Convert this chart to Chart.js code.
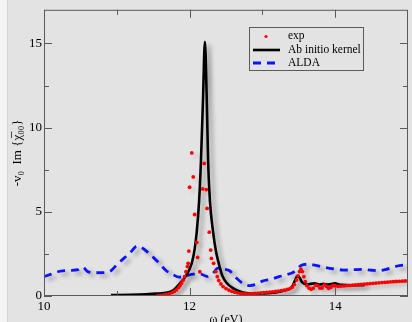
<!DOCTYPE html>
<html>
<head>
<meta charset="utf-8">
<script src="https://cdn.jsdelivr.net/npm/chart.js@4.4.0/dist/chart.umd.min.js"></script>
<style>
  html, body { margin: 0; padding: 0; overflow: hidden; }
  body { width: 412px; height: 322px; background: #e3e3e3; position: relative; }
  #strip { position: absolute; left: 0; top: 0; width: 7px; height: 322px; background: #f4f4f4; border-right: 1px solid #d4d4d4; }
  #myChart { position: absolute; left: 0; top: 0; }
</style>
</head>
<body>
<div id="strip"></div>
<canvas id="myChart" width="412" height="330"></canvas>
<script>
// exp (red dots)
const expX = [11.56, 11.60, 11.64, 11.68, 11.72, 11.76, 11.79, 11.82, 11.85, 11.87, 11.89, 11.91, 11.93, 11.95, 11.97, 11.98, 11.99,
  12.00, 12.03, 12.05, 12.07, 12.10, 12.11, 12.14, 12.18, 12.20, 12.23, 12.24, 12.27, 12.29, 12.30, 12.33,
  12.36, 12.38, 12.40, 12.43, 12.46, 12.50, 12.54, 12.58, 12.62, 12.66, 12.70, 12.74, 12.78, 12.82, 12.86, 12.90, 12.94, 12.98,
  13.02, 13.06, 13.10, 13.14, 13.18, 13.22, 13.26, 13.30, 13.34, 13.38, 13.41, 13.44, 13.47, 13.49, 13.51, 13.53, 13.55, 13.57, 13.59,
  13.61, 13.64, 13.67, 13.70, 13.73, 13.76, 13.79, 13.82, 13.85, 13.88, 13.91, 13.94, 13.97, 14.00, 14.04, 14.08, 14.12, 14.16, 14.20,
  14.24, 14.28, 14.32, 14.36, 14.40, 14.44, 14.48, 14.52, 14.56, 14.60, 14.64, 14.68, 14.72, 14.76, 14.80, 14.84, 14.88, 14.92, 14.96, 15.00];
const expY = [0.02, 0.04, 0.06, 0.09, 0.13, 0.2, 0.27, 0.36, 0.5, 0.62, 0.76, 0.93, 1.15, 1.44, 1.75, 1.94, 2.67,
  6.46, 8.5, 7.07, 4.84, 3.18, 2.29, 1.44, 6.36, 7.87, 6.32, 5.2, 3.79, 2.73, 2.23, 1.94,
  1.45, 1.15, 0.92, 0.72, 0.56, 0.44, 0.35, 0.28, 0.23, 0.19, 0.16, 0.14, 0.13, 0.13, 0.14, 0.15, 0.17, 0.18,
  0.2, 0.22, 0.23, 0.25, 0.27, 0.29, 0.32, 0.35, 0.39, 0.44, 0.52, 0.68, 0.95, 1.2, 1.45, 1.6, 1.45, 1.15, 0.85,
  0.62, 0.47, 0.4, 0.47, 0.65, 0.62, 0.47, 0.48, 0.66, 0.58, 0.46, 0.52, 0.62, 0.6, 0.58, 0.59, 0.6, 0.62, 0.63,
  0.65, 0.66, 0.68, 0.69, 0.71, 0.72, 0.74, 0.75, 0.77, 0.78, 0.8, 0.81, 0.82, 0.84, 0.85, 0.86, 0.87, 0.88, 0.89, 0.9];

// Ab initio kernel (black)
const abX = [10.92, 11.2, 11.4, 11.55, 11.69, 11.78, 11.87, 11.95, 12.03, 12.07, 12.10, 12.13, 12.155, 12.185, 12.21,
  12.235, 12.255, 12.28, 12.32, 12.36, 12.40, 12.45, 12.51, 12.6, 12.72, 12.85, 13.0, 13.1, 13.2, 13.3, 13.38, 13.42,
  13.45, 13.48, 13.51, 13.54, 13.58, 13.62, 13.66, 13.72, 13.78, 13.84, 13.9, 13.96, 14.0, 14.05, 14.1, 14.2, 14.3, 14.41];
const abY = [0.05, 0.07, 0.1, 0.14, 0.2, 0.35, 0.77, 1.2, 1.95, 2.8, 3.9, 5.6, 7.9, 11.8, 15.1,
  11.8, 7.9, 5.6, 3.9, 2.7, 1.95, 1.2, 0.77, 0.45, 0.22, 0.15, 0.14, 0.17, 0.22, 0.32, 0.45, 0.65,
  0.95, 1.18, 1.1, 0.85, 0.72, 0.68, 0.72, 0.75, 0.68, 0.72, 0.68, 0.72, 0.76, 0.68, 0.66, 0.64, 0.64, 0.65];

// ALDA (blue dashed)
const aldaX = [10.0, 10.1, 10.22, 10.35, 10.47, 10.53, 10.6, 10.72, 10.86, 10.92, 11.0, 11.1, 11.18, 11.28, 11.35, 11.45,
  11.57, 11.68, 11.76, 11.86, 11.95, 12.05, 12.15, 12.25, 12.32, 12.39, 12.47, 12.55, 12.62, 12.68, 12.75, 12.83, 12.92,
  13.0, 13.12, 13.23, 13.32, 13.42, 13.48, 13.53, 13.64, 13.75, 13.87, 14.0, 14.12, 14.25, 14.37, 14.5, 14.6, 14.7, 14.78, 14.88, 15.0];
const aldaY = [1.15, 1.3, 1.47, 1.52, 1.56, 1.72, 1.45, 1.38, 1.4, 1.5, 1.85, 2.25, 2.55, 2.96, 2.85, 2.5,
  2.0, 1.5, 1.3, 1.12, 1.2, 1.3, 1.3, 1.15, 1.35, 1.65, 1.6, 1.5, 1.15, 0.92, 0.7, 0.62, 0.7,
  0.88, 1.0, 1.15, 1.25, 1.4, 1.6, 1.81, 1.89, 1.8, 1.69, 1.6, 1.54, 1.56, 1.58, 1.53, 1.5, 1.58, 1.69, 1.81, 1.84];

// ticks
const xMajor = [10, 12, 14];
const xMinor = [11, 13];
const yMajor = [0, 5, 10, 15];
const yMinor = [2.5, 7.5, 12.5];

const pts = (xs, ys) => xs.map((v, i) => ({ x: v, y: ys[i] }));

// inward ticks, frame and legend
const frame = {
  id: "frame",
  beforeDatasetDraw(chart, args) {
    const ctx = chart.ctx;
    ctx.save();
    ctx.shadowColor = args.index === 0 ? "rgba(0,0,0,0.18)" : "rgba(0,0,0,0.32)";
    ctx.shadowBlur = 4;
    ctx.shadowOffsetX = 4;
    ctx.shadowOffsetY = 3;
  },
  afterDatasetDraw(chart) {
    chart.ctx.restore();
  },
  afterDraw(chart) {
    const { ctx, chartArea: a } = chart;
    const x = chart.scales.x;
    const y = chart.scales.y;
    ctx.save();
    ctx.strokeStyle = "#5a5a5a";
    ctx.lineWidth = 1;
    ctx.strokeRect(a.left + 0.5, a.top + 0.5, a.right - a.left - 1, a.bottom - a.top - 1);
    ctx.beginPath();
    const xt = (v, len) => {
      const px = Math.round(x.getPixelForValue(v)) + 0.5;
      ctx.moveTo(px, a.bottom); ctx.lineTo(px, a.bottom - len);
      ctx.moveTo(px, a.top); ctx.lineTo(px, a.top + len);
    };
    const yt = (v, len) => {
      const py = Math.round(y.getPixelForValue(v)) + 0.5;
      ctx.moveTo(a.left, py); ctx.lineTo(a.left + len, py);
      ctx.moveTo(a.right, py); ctx.lineTo(a.right - len, py);
    };
    xMajor.forEach(v => xt(v, 8));
    xMinor.forEach(v => xt(v, 5));
    yMajor.forEach(v => yt(v, 8));
    yMinor.forEach(v => yt(v, 5));
    ctx.stroke();

    // legend
    const ds = chart.data.datasets;
    ctx.strokeRect(249.5, 27.5, 114, 43);
    ctx.font = "11.5px 'Liberation Serif', serif";
    ctx.fillStyle = "#000";
    ctx.textBaseline = "middle";
    ctx.textAlign = "left";
    const rows = [36, 50, 63];
    ds.forEach((d, i) => {
      const ry = rows[i];
      if (i === 0) {
        ctx.beginPath();
        ctx.fillStyle = d.pointBackgroundColor;
        ctx.arc(266, ry + 0.5, 1.6, 0, Math.PI * 2);
        ctx.fill();
      } else {
        ctx.beginPath();
        ctx.strokeStyle = d.borderColor;
        ctx.lineWidth = d.borderWidth;
        ctx.setLineDash(d.borderDash || []);
        ctx.moveTo(253, ry); ctx.lineTo(280, ry);
        ctx.stroke();
        ctx.setLineDash([]);
      }
      ctx.fillStyle = "#000";
      ctx.fillText(d.label, 288, ry);
    });
    ctx.restore();
  }
};

Chart.defaults.font.family = "'Liberation Serif', 'Times New Roman', serif";
Chart.defaults.color = "#000";

const ctx = document.getElementById("myChart");
new Chart(ctx, {
  type: "scatter",
  data: {
    datasets: [
      {
        label: "exp",
        data: pts(expX, expY),
        showLine: false,
        pointRadius: 1.9,
        pointBorderWidth: 0,
        pointBackgroundColor: "#ff0000",
        borderColor: "#ff0000",
      },
      {
        label: "Ab initio kernel",
        data: pts(abX, abY),
        showLine: true,
        borderColor: "#000000",
        borderWidth: 2.6,
        pointRadius: 0,
        cubicInterpolationMode: "monotone",
      },
      {
        label: "ALDA",
        data: pts(aldaX, aldaY),
        showLine: true,
        borderColor: "#0a14ff",
        borderWidth: 2.8,
        borderDash: [8, 6],
        pointRadius: 0,
        cubicInterpolationMode: "monotone",
      },
    ],
  },
  options: {
    responsive: false,
    animation: false,
    devicePixelRatio: 1,
    layout: { padding: { top: 9, right: 3, left: 0, bottom: 0 } },
    plugins: { legend: { display: false }, tooltip: { enabled: false } },
    scales: {
      x: {
        type: "linear",
        min: 10,
        max: 15,
        afterFit: (s) => { s.height = 34; },
        grid: { display: false, drawTicks: false },
        border: { display: false },
        ticks: {
          stepSize: 1,
          padding: 3,
          maxRotation: 0,
          font: { size: 13 },
          callback: (v) => (xMajor.includes(v) ? v : ""),
        },
        title: { display: true, text: "ω (eV)", font: { size: 12 }, padding: { top: 0, bottom: 3 } },
      },
      y: {
        type: "linear",
        min: 0,
        max: 17,
        afterFit: (s) => { s.width = 44; },
        grid: { display: false, drawTicks: false },
        border: { display: false },
        ticks: {
          stepSize: 2.5,
          padding: 2,
          font: { size: 13 },
          callback: (v) => (yMajor.includes(v) ? v : ""),
        },
        title: { display: true, text: "-v\u2080  Im {\u03C7\u0305\u2080\u2080}", font: { size: 13 }, padding: { top: 10, bottom: 0 } },
      },
    },
  },
  plugins: [frame],
});
</script>
</body>
</html>
